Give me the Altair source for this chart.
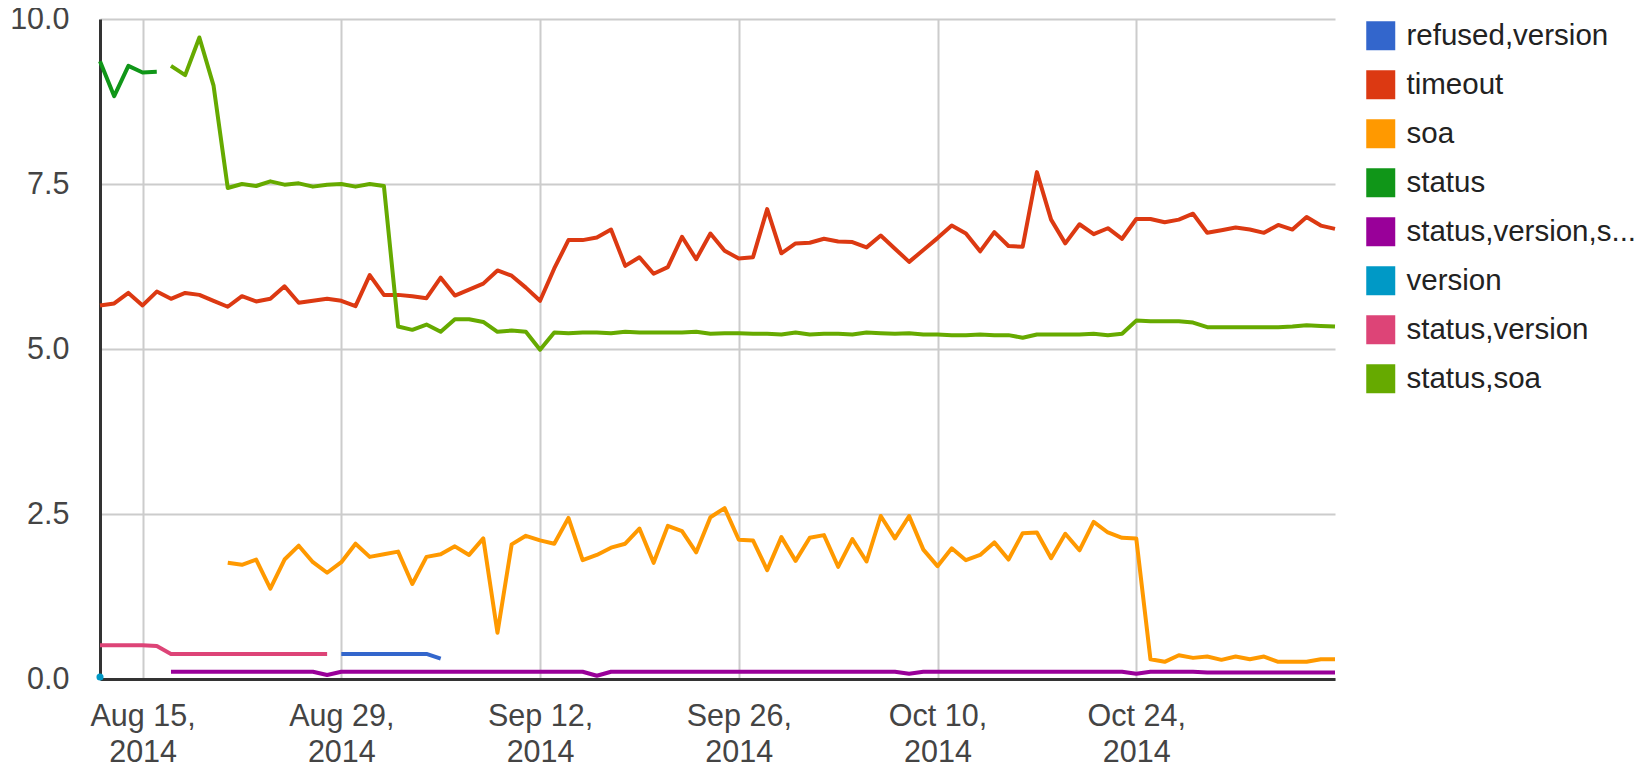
import altair as alt
import pandas as pd

FONT = "Liberation Sans"

# ---- data (daily values, first day of each series given as offset) ----
START = "2014-08-12"

SERIES_ORDER = ["refused,version", "timeout", "soa", "status",
                "status,version,s...", "version", "status,version", "status,soa"]
COLORS = ["#3366cc", "#dc3912", "#ff9900", "#109618",
          "#990099", "#0099c6", "#dd4477", "#66aa00"]

refused_version_start = 17
refused_version = [0.38, 0.38, 0.38, 0.38, 0.38, 0.38, 0.38, 0.31]

timeout_start = 0
timeout = [5.66, 5.69, 5.85, 5.66, 5.87, 5.76, 5.85, 5.82, 5.73, 5.64,
           5.80, 5.72, 5.76, 5.95, 5.70, 5.73, 5.76, 5.73, 5.65, 6.12,
           5.82, 5.82, 5.80, 5.77, 6.08, 5.81, 5.90, 5.99, 6.19, 6.11,
           5.93, 5.73, 6.22, 6.65, 6.65, 6.69, 6.81, 6.26, 6.39, 6.14,
           6.24, 6.70, 6.36, 6.75, 6.49, 6.37, 6.39, 7.12, 6.45, 6.60,
           6.61, 6.67, 6.63, 6.62, 6.54, 6.72, 6.52, 6.32, 6.50, 6.68,
           6.87, 6.75, 6.48, 6.77, 6.56, 6.55, 7.68, 6.96, 6.60, 6.89,
           6.74, 6.83, 6.67, 6.97, 6.97, 6.92, 6.96, 7.05, 6.76, 6.80,
           6.84, 6.81, 6.76, 6.88, 6.81, 7.00, 6.87, 6.82]

soa_start = 9
soa = [1.76,
       1.73, 1.81, 1.37, 1.81, 2.02, 1.77, 1.61, 1.77, 2.05, 1.85,
       1.89, 1.93, 1.44, 1.85, 1.89, 2.01, 1.88, 2.13, 0.70, 2.04,
       2.17, 2.10, 2.05, 2.44, 1.80, 1.88, 1.99, 2.05, 2.28, 1.76,
       2.32, 2.24, 1.92, 2.45, 2.59, 2.11, 2.10, 1.65, 2.15, 1.79,
       2.14, 2.18, 1.70, 2.12, 1.78, 2.47, 2.13, 2.47, 1.96, 1.71,
       1.98, 1.80, 1.88, 2.07, 1.81, 2.21, 2.22, 1.83, 2.20, 1.95,
       2.38, 2.22, 2.14, 2.13, 0.30, 0.26, 0.36, 0.32, 0.34, 0.29,
       0.34, 0.30, 0.34, 0.26, 0.26, 0.26, 0.30, 0.30]

status_start = 0
status = [9.36, 8.83, 9.29, 9.19, 9.20]

svs_start = 5
status_version_s = [0.11, 0.11, 0.11, 0.11, 0.11,
                    0.11, 0.11, 0.11, 0.11, 0.11, 0.11, 0.06, 0.11, 0.11, 0.11,
                    0.11, 0.11, 0.11, 0.11, 0.11, 0.11, 0.11, 0.11, 0.11, 0.11,
                    0.11, 0.11, 0.11, 0.11, 0.11, 0.05, 0.11, 0.11, 0.11, 0.11,
                    0.11, 0.11, 0.11, 0.11, 0.11, 0.11, 0.11, 0.11, 0.11, 0.11,
                    0.11, 0.11, 0.11, 0.11, 0.11, 0.11, 0.11, 0.08, 0.11, 0.11,
                    0.11, 0.11, 0.11, 0.11, 0.11, 0.11, 0.11, 0.11, 0.11, 0.11,
                    0.11, 0.11, 0.11, 0.08, 0.11, 0.11, 0.11, 0.11, 0.10, 0.10,
                    0.10, 0.10, 0.10, 0.10, 0.10, 0.10, 0.10, 0.10]

version_start = 0
version = [0.03]

status_version_start = 0
status_version = [0.51, 0.51, 0.51, 0.51, 0.50, 0.38, 0.38, 0.38, 0.38, 0.38,
                  0.38, 0.38, 0.38, 0.38, 0.38, 0.38, 0.38]

status_soa_start = 5
status_soa = [9.29, 9.15, 9.72, 8.99, 7.44,
              7.50, 7.47, 7.54, 7.49, 7.51, 7.46, 7.49, 7.50, 7.46, 7.50,
              7.47, 5.34, 5.29, 5.37, 5.26, 5.45, 5.45, 5.41, 5.26, 5.28,
              5.26, 4.99, 5.25, 5.24, 5.25, 5.25, 5.24, 5.26, 5.25, 5.25,
              5.25, 5.25, 5.26, 5.23, 5.24, 5.24, 5.23, 5.23, 5.22, 5.25,
              5.22, 5.23, 5.23, 5.22, 5.25, 5.24, 5.23, 5.24, 5.22, 5.22,
              5.21, 5.21, 5.22, 5.21, 5.21, 5.17, 5.22, 5.22, 5.22, 5.22,
              5.23, 5.21, 5.23, 5.43, 5.42, 5.42, 5.42, 5.40, 5.33, 5.33,
              5.33, 5.33, 5.33, 5.33, 5.34, 5.36, 5.35, 5.34]

TICK_DATES = ["2014-08-15", "2014-08-29", "2014-09-12",
              "2014-09-26", "2014-10-10", "2014-10-24"]
X_DOMAIN = ["2014-08-12", "2014-11-07"]
Y_TICKS = [0, 2.5, 5, 7.5, 10]

# ---- build long table ----
series_data = [
    ("refused,version", refused_version_start, refused_version),
    ("timeout", timeout_start, timeout),
    ("soa", soa_start, soa),
    ("status", status_start, status),
    ("status,version,s...", svs_start, status_version_s),
    ("version", version_start, version),
    ("status,version", status_version_start, status_version),
    ("status,soa", status_soa_start, status_soa),
]
start = pd.Timestamp(START)
rows = []
for name, off, vals in series_data:
    for i, v in enumerate(vals):
        rows.append({"date": (start + pd.Timedelta(days=off + i)).strftime("%Y-%m-%d"),
                     "series": name, "value": v, "n": len(vals)})
df = pd.DataFrame(rows)


def ms(s):
    return int(pd.Timestamp(s, tz="UTC").value // 10**6)


W, H = 1235, 660

x_enc = alt.X(
    "date:T",
    scale=alt.Scale(type="utc", domain=[ms(d) for d in X_DOMAIN], nice=False),
    axis=alt.Axis(
        values=[ms(d) for d in TICK_DATES],
        labelExpr="[utcFormat(datum.value, '%b %d,'), utcFormat(datum.value, '%Y')]",
        grid=True, gridColor="#cccccc", gridWidth=2,
        ticks=False, domainColor="#333333", domainWidth=3,
        labelFont=FONT, labelFontSize=30.5, labelColor="#444444",
        labelPadding=22, labelBaseline="top", labelLineHeight=36,
        labelFlush=False, labelOverlap=False, title=None,
    ),
)
y_enc = alt.Y(
    "value:Q",
    scale=alt.Scale(domain=[0, 10], nice=False, zero=True),
    axis=alt.Axis(
        values=Y_TICKS, format=".1f",
        grid=True, gridColor="#cccccc", gridWidth=2,
        ticks=False, domainColor="#333333", domainWidth=3,
        labelFont=FONT, labelFontSize=30.5, labelColor="#444444",
        labelPadding=31, title=None,
    ),
)

legend = alt.Legend(
    title=None, orient="none", legendX=W + 31, legendY=2, padding=0,
    symbolType="square", symbolSize=841, symbolStrokeWidth=0,
    symbolOpacity=1,
    labelFont=FONT, labelFontSize=29.5, labelColor="#222222",
    labelOffset=11, rowPadding=18, labelLimit=400,
)
color_scale = alt.Scale(domain=SERIES_ORDER, range=COLORS)

lines = alt.Chart(df).transform_filter("datum.n > 1").mark_line(
    strokeWidth=4, strokeJoin="round"
).encode(
    x=x_enc, y=y_enc,
    stroke=alt.Stroke("series:N", scale=color_scale, legend=legend),
    detail="series:N",
)

dots = alt.Chart(df).transform_filter("datum.n == 1").mark_circle(
    size=50, opacity=1
).encode(
    x=x_enc, y=y_enc,
    fill=alt.Fill("series:N", scale=color_scale, legend=legend),
)

chart = alt.layer(lines, dots).properties(
    width=W, height=H,
    padding={"left": 92, "top": 11, "right": 305, "bottom": 90},
    autosize="none",
).configure_view(strokeWidth=0)

chart.save("out.html", embed_options={"renderer": "svg", "actions": False})
